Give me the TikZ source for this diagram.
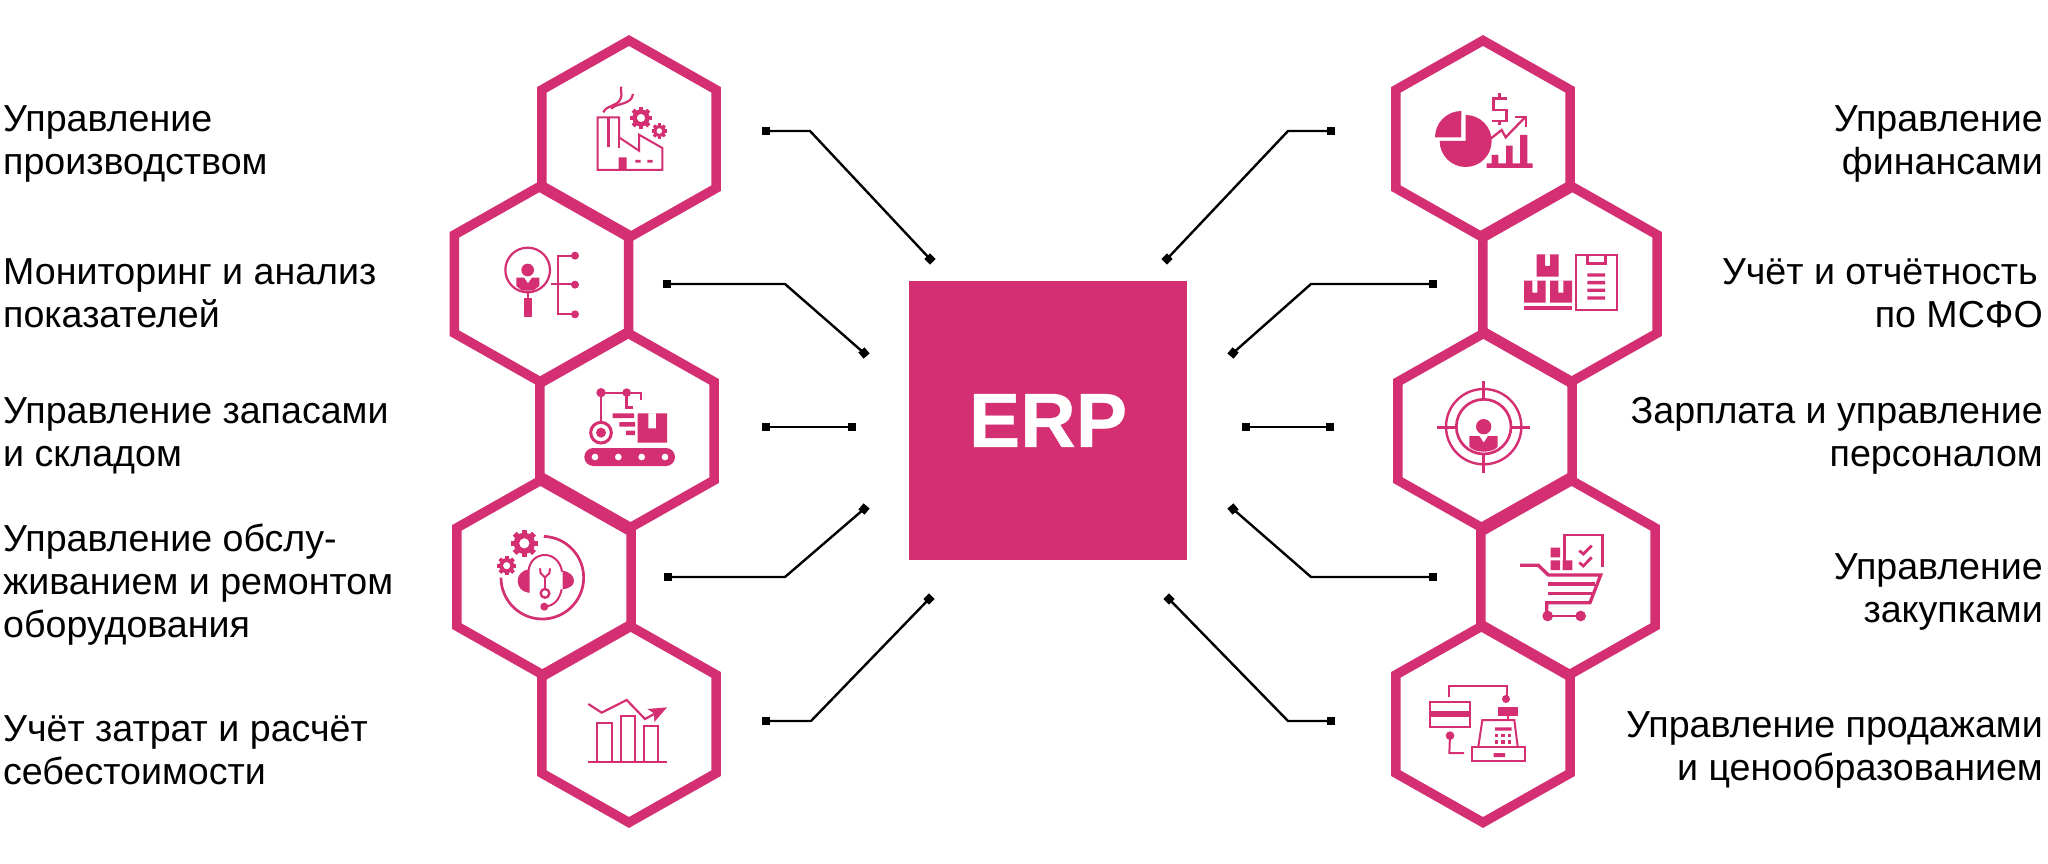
\documentclass[tikz,border=0pt]{standalone}
\usepackage{fontspec}
\setmainfont{Liberation Sans}
\usetikzlibrary{shapes.geometric}
\definecolor{pk}{HTML}{D42F72}
\tikzset{
  hexcell/.style={regular polygon,regular polygon sides=6,regular polygon rotate=30,draw=pk,line width=9.5pt,minimum size=201pt,inner sep=0pt,miter limit=10,transform shape,yscale=.98},
  lbl/.style={font=\fontsize{37.6}{43}\selectfont,text=black,inner sep=0pt},
  lbll/.style={lbl,anchor=west,align=left},
  lblr/.style={lbl,anchor=east,align=right},
  endsq/.style={fill=black,minimum size=8pt,inner sep=0pt,outer sep=0pt,rectangle},
  conn/.style={draw=black,line width=2.4pt,line join=miter},
  ic/.style={draw=pk,line join=miter},
  icon/.style={x=0.33333pt,y=-0.33333pt},
}
\newcommand{\gearicon}[3]{%
  \begin{scope}[shift={(#1,#2)}]
    \foreach \a in {0,45,...,315}{\fill[pk,rotate=\a] (-#3*.2,#3*.6) rectangle (#3*.2,#3);}
    \fill[pk,even odd rule] (0,0) circle[radius=#3*.78] (0,0) circle[radius=#3*.38];
  \end{scope}}
\begin{document}
\begin{tikzpicture}[x=1pt,y=-1pt]
\useasboundingbox (0,0) rectangle (2048,864);
\fill[white] (0,0) rectangle (2048,864);

% hexagons
\node[hexcell] (hl1) at (629,139) {};
\node[hexcell] (hl2) at (541.5,284) {};
\node[hexcell] (hl3) at (627,431) {};
\node[hexcell] (hl4) at (544,577) {};
\node[hexcell] (hl5) at (629,724) {};
\node[hexcell] (hr1) at (1483,139) {};
\node[hexcell] (hr2) at (1570,284) {};
\node[hexcell] (hr3) at (1485,431) {};
\node[hexcell] (hr4) at (1568,577) {};
\node[hexcell] (hr5) at (1483,724) {};

% centre
\node[fill=pk,minimum width=278pt,minimum height=279pt,inner sep=0pt,text=white,font=\fontsize{77}{77}\selectfont\bfseries\addfontfeature{FakeBold=0.5}] (erp) at (1048,420.5) {ERP};

% labels
\node[lbll] (tl1) at (3,143.5) {Управление\\производством};
\node[lbll] (tl2) at (3,293.5) {Мониторинг и анализ\\показателей};
\node[lbll] (tl3) at (3,436) {Управление запасами\\и складом};
\node[lbll] (tl4) at (3,585) {Управление обслу-\\живанием и ремонтом\\оборудования};
\node[lbll] (tl5) at (3,750) {Учёт затрат и расчёт\\себестоимости};
\node[lblr] (tr1) at (2043,143.5) {Управление\\финансами};
\node[lblr] (tr2) at (2043,293.5) {Учёт и отчётность\kern5pt\\по МСФО};
\node[lblr] (tr3) at (2043,436) {Зарплата и управление\\персоналом};
\node[lblr] (tr4) at (2043,592) {Управление\\закупками};
\node[lblr] (tr5) at (2043,750) {Управление продажами\\и ценообразованием};

% connectors
\node[endsq] (al1) at (766,131) {};
\coordinate (kl1) at (810,131);
\node[endsq,rotate=45] (bl1) at (930,259) {};
\draw[conn] (al1.center) -- (kl1) -- (bl1.center);
\node[endsq] (al2) at (667,284) {};
\coordinate (kl2) at (785,284);
\node[endsq,rotate=40] (bl2) at (864,353) {};
\draw[conn] (al2.center) -- (kl2) -- (bl2.center);
\node[endsq] (al3) at (766,427) {};
\node[endsq] (bl3) at (852,427) {};
\draw[conn] (al3.center) -- (bl3.center);
\node[endsq] (al4) at (668,577) {};
\coordinate (kl4) at (785,577);
\node[endsq,rotate=-40] (bl4) at (864,509) {};
\draw[conn] (al4.center) -- (kl4) -- (bl4.center);
\node[endsq] (al5) at (766,721) {};
\coordinate (kl5) at (811,721);
\node[endsq,rotate=45] (bl5) at (929,599) {};
\draw[conn] (al5.center) -- (kl5) -- (bl5.center);
\node[endsq] (ar1) at (1331,131) {};
\coordinate (kr1) at (1288,131);
\node[endsq,rotate=45] (br1) at (1167,259) {};
\draw[conn] (ar1.center) -- (kr1) -- (br1.center);
\node[endsq] (ar2) at (1433,284) {};
\coordinate (kr2) at (1311,284);
\node[endsq,rotate=-40] (br2) at (1233,353) {};
\draw[conn] (ar2.center) -- (kr2) -- (br2.center);
\node[endsq] (ar3) at (1330,427) {};
\node[endsq] (br3) at (1246,427) {};
\draw[conn] (ar3.center) -- (br3.center);
\node[endsq] (ar4) at (1433,577) {};
\coordinate (kr4) at (1311,577);
\node[endsq,rotate=40] (br4) at (1233,509) {};
\draw[conn] (ar4.center) -- (kr4) -- (br4.center);
\node[endsq] (ar5) at (1331,721) {};
\coordinate (kr5) at (1288,721);
\node[endsq,rotate=45] (br5) at (1169,599) {};
\draw[conn] (ar5.center) -- (kr5) -- (br5.center);

% ---- icon L1 factory
\begin{scope}[shift={(530,30)},icon]
\draw[ic,line width=2pt] (203,262) -- (267,262) -- (267,322) -- (327,362) -- (327,314) -- (397,354) -- (397,420) -- (203,420) -- cycle;
\draw[ic,line width=2pt] (267,322) -- (267,355);
\draw[ic,line width=3pt] (235,265) -- (235,352);
\fill[pk] (266,382) rectangle (290,420) (316,390) rectangle (332,398) (352,390) rectangle (368,398);
\draw[ic,line width=2.2pt] (220,247) .. controls (232,222) and (262,232) .. (272,205) .. controls (278,192) and (270,185) .. (274,170);
\draw[ic,line width=2.2pt] (243,236) .. controls (262,218) and (305,225) .. (309,192);
\gearicon{333}{264}{33}
\gearicon{388}{303}{23}
\end{scope}

% ---- icon L2
\begin{scope}[shift={(450,180)},icon]
\draw[ic,line width=2.2pt] (233,270) circle[radius=67];
\fill[pk] (233,270) circle[radius=19];
\fill[pk] (199,293) -- (222,293) -- (234,310) -- (246,293) -- (268,293) -- (268,318) -- (250,332) -- (216,332) -- (199,318) -- cycle;
\draw[ic,line width=2pt] (233,336) -- (233,356);
\fill[pk] (221,355) rectangle (246,411);
\draw[ic,line width=2pt] (375,227) -- (325,227) -- (325,403) -- (375,403);
\draw[ic,line width=2pt] (303,313) -- (375,313);
\fill[pk] (375,227) circle[radius=12] (375,314) circle[radius=12] (375,403) circle[radius=12];
\end{scope}

% ---- icon L3
\begin{scope}[shift={(530,330)},icon]
\fill[pk,rounded corners=9pt] (163,354) rectangle (435,408);
\fill[white] (195,381) circle[radius=10] (265,381) circle[radius=10] (335,381) circle[radius=10] (405,381) circle[radius=10];
\draw[ic,line width=3pt] (213,308) circle[radius=31];
\fill[pk] (213,308) circle[radius=15];
\draw[ic,line width=2pt] (213,188) -- (213,277);
\draw[ic,line width=2pt] (213,188) -- (333,188) -- (333,209);
\draw[ic,line width=2.4pt] (290,188) -- (290,232) -- (310,232);
\fill[pk] (213,188) circle[radius=14] (290,188) circle[radius=13];
\fill[pk] (248,250) rectangle (312,264) (268,276) rectangle (315,290) (288,302) rectangle (315,315);
\fill[pk,even odd rule] (323,250) rectangle (411,338) (355,250) rectangle (378,295);
\end{scope}

% ---- icon L4
\begin{scope}[shift={(450,480)},icon]
\gearicon{223}{190}{41}
\gearicon{170}{257}{29}
\draw[ic,line width=2.7pt] (277,293) ++(-88:124) arc[start angle=-88,end angle=180,radius=124];
\draw[ic,line width=2pt] (236,338) -- (236,270) .. controls (240,240) and (262,225) .. (285,225) .. controls (310,225) and (332,245) .. (336,275);
\fill[pk] (236,268) .. controls (212,272) and (203,288) .. (203,303) .. controls (203,320) and (215,336) .. (236,338) -- cycle;
\fill[pk] (338,272) .. controls (362,276) and (372,290) .. (372,303) .. controls (372,316) and (358,326) .. (338,328) -- cycle;
\draw[ic,line width=2pt] (335,328) .. controls (328,362) and (310,378) .. (283,380);
\fill[pk] (283,380) circle[radius=12];
\draw[ic,line width=2pt] (270,265) -- (272,280) -- (285,292) -- (298,280) -- (300,265);
\draw[ic,line width=2pt] (285,292) -- (285,328);
\draw[ic,line width=2.4pt] (285,340) circle[radius=13];
\end{scope}

% ---- icon L5
\begin{scope}[shift={(530,630)},icon]
\draw[ic,line width=2.3pt] (175,396) -- (412,396);
\draw[ic,line width=2pt] (202,396) -- (202,280) -- (245,280) -- (245,396);
\draw[ic,line width=2pt] (272,396) -- (272,258) -- (316,258) -- (316,396);
\draw[ic,line width=2pt] (342,396) -- (342,288) -- (385,288) -- (385,396);
\draw[ic,line width=2.2pt] (175,222) -- (215,248) -- (290,210) -- (345,267) -- (385,245);
\fill[pk] (352,237) -- (411,232) -- (373,276) -- (372,250) -- cycle;
\end{scope}

% ---- icon R1
\begin{scope}[shift={(1390,30)},icon]
\fill[pk] (227,333) -- (227,255) arc[start angle=-90,end angle=180,radius=78] -- cycle;
\fill[pk] (213,322) -- (135,322) arc[start angle=180,end angle=270,radius=79] -- cycle;
\draw[ic,line width=2.7pt] (352,205) -- (310,205) -- (310,240) -- (350,240) -- (350,273) -- (306,273);
\draw[ic,line width=2.7pt] (328,190) -- (328,205) (328,273) -- (328,285);
\draw[ic,line width=2.3pt] (303,325) -- (335,300) -- (347,322) -- (405,262);
\draw[ic,line width=2.3pt] (375,261) -- (408,261) -- (408,292);
\fill[pk] (305,375) rectangle (325,400) (348,347) rectangle (368,400) (390,315) rectangle (412,400) (290,400) rectangle (428,414);
\end{scope}

% ---- icon R2
\begin{scope}[shift={(1480,180)},icon]
\fill[pk,even odd rule] (170,223) rectangle (236,290) (195,223) rectangle (210,258);
\fill[pk,even odd rule] (132,302) rectangle (197,368) (157,302) rectangle (172,338);
\fill[pk,even odd rule] (210,302) rectangle (276,368) (235,302) rectangle (250,338);
\fill[pk] (132,378) rectangle (276,389);
\draw[ic,line width=2.3pt] (288,225) rectangle (410,390);
\draw[ic,line width=3pt] (322,228) -- (322,252) -- (375,252) -- (375,228);
\fill[pk] (322,280) rectangle (375,290) (322,303) rectangle (375,313) (322,326) rectangle (375,336) (322,349) rectangle (375,359);
\end{scope}

% ---- icon R3
\begin{scope}[shift={(1390,330)},icon]
\draw[ic,line width=2.4pt] (281,290) circle[radius=113];
\draw[ic,line width=2.7pt] (281,290) circle[radius=82];
\draw[ic,line width=3pt] (281,154) -- (281,208) (281,375) -- (281,428) (142,291) -- (198,291) (365,291) -- (420,291);
\fill[pk] (281,290) circle[radius=23];
\fill[pk] (238,318) -- (268,318) -- (281,338) -- (294,318) -- (323,318) -- (323,350) .. controls (308,370) and (254,370) .. (238,350) -- cycle;
\end{scope}

% ---- icon R4
\begin{scope}[shift={(1480,480)},icon]
\draw[ic,line width=3.3pt] (120,256) -- (175,256) -- (205,285) -- (362,285) -- (330,368) -- (200,368) -- (200,400);
\draw[ic,line width=3.3pt] (205,312) -- (346,312) (205,340) -- (336,340);
\draw[ic,line width=2pt] (203,408) -- (302,408);
\fill[pk] (203,408) circle[radius=16] (302,408) circle[radius=16];
\fill[pk] (212,203) rectangle (240,232) (212,241) rectangle (240,270) (248,241) rectangle (277,270);
\draw[ic,line width=2.6pt] (254,262) -- (254,165) -- (367,165) -- (367,262);
\draw[ic,line width=2.8pt] (298,212) -- (310,222) -- (335,197);
\draw[ic,line width=2.8pt] (298,248) -- (310,258) -- (335,232);
\end{scope}

% ---- icon R5
\begin{scope}[shift={(1390,630)},icon]
\draw[ic,line width=2pt] (178,200) -- (178,168) -- (350,168) -- (350,205);
\fill[pk] (348,207) circle[radius=12] (180,317) circle[radius=13];
\draw[ic,line width=2pt] (121,216) rectangle (240,291);
\fill[pk] (121,242) rectangle (240,262);
\draw[ic,line width=2pt] (180,317) -- (178,369) -- (222,369);
\fill[pk] (324,232) rectangle (384,257);
\draw[ic,line width=2pt] (354,257) -- (354,270);
\draw[ic,line width=2pt] (265,350) -- (277,270) -- (373,270) -- (383,350);
\draw[ic,line width=2pt] (245,350) rectangle (406,394);
\fill[pk] (311,369) rectangle (345,381) (315,292) rectangle (365,302);
\foreach \xx in {319,339,359}{\foreach \yy in {316,336}{\fill[pk] (\xx-5,\yy-5) rectangle (\xx+5,\yy+5);}}
\end{scope}
\end{tikzpicture}
\end{document}
